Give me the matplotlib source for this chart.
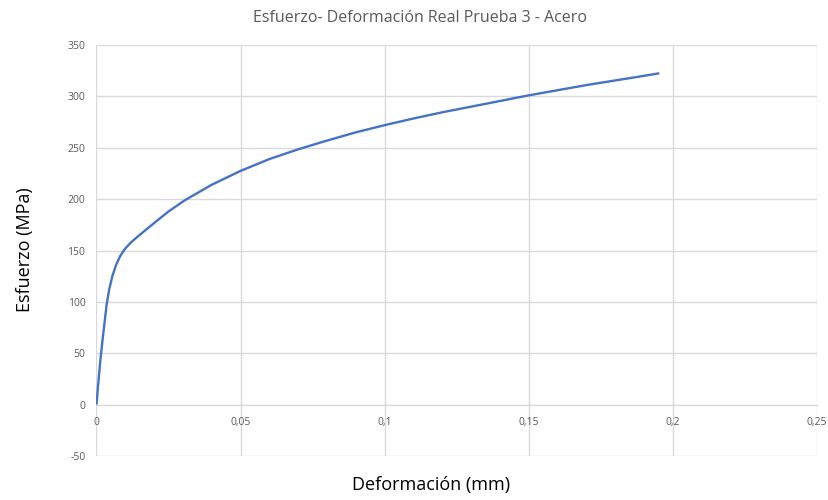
import matplotlib.pyplot as plt
from matplotlib.ticker import FixedLocator, FuncFormatter

# ── Data ──────────────────────────────────────────────────────
deformacion = [0, 0.0006, 0.0013, 0.0021, 0.0028, 0.0035, 0.0044, 0.0055, 0.0068,
               0.0083, 0.01, 0.012, 0.0145, 0.0175, 0.021, 0.025, 0.0307, 0.04,
               0.05, 0.06, 0.07, 0.08, 0.09, 0.1, 0.11, 0.12, 0.13, 0.14, 0.15,
               0.16, 0.17, 0.18, 0.19, 0.1953]
esfuerzo = [0, 20, 42, 63, 80, 97, 112, 125, 136,
            145, 152, 158, 164, 171, 179, 188, 199, 214,
            227.5, 239, 248.5, 257, 265, 272, 278.5, 284.5, 290, 295.5, 301,
            306, 311, 315.5, 320, 322.5]

x_ticks = [0, 0.05, 0.1, 0.15, 0.2, 0.25]
y_ticks = [-50, 0, 50, 100, 150, 200, 250, 300, 350]

plt.rcParams['font.family'] = ['Open Sans', 'DejaVu Sans']

fig = plt.figure(figsize=(8.29, 5.0), dpi=100)
ax = fig.add_axes([0.1164, 0.088, 0.8691, 0.822])

ax.plot(deformacion, esfuerzo, color='#4472C4', linewidth=1.7,
        solid_capstyle='butt', solid_joinstyle='round')

ax.set_xlim(0, 0.25)
ax.set_ylim(-50, 350)
ax.xaxis.set_major_locator(FixedLocator(x_ticks))
ax.yaxis.set_major_locator(FixedLocator(y_ticks))
ax.xaxis.set_major_formatter(FuncFormatter(lambda v, p: f'{v:g}'.replace('.', ',')))
ax.yaxis.set_major_formatter(FuncFormatter(lambda v, p: f'{v:g}'))

ax.grid(True, color='#d9d9d9', linewidth=1)
ax.set_axisbelow(True)
for s in ['top', 'right', 'left']:
    ax.spines[s].set_visible(False)
ax.spines['bottom'].set_position(('data', 0))
ax.spines['bottom'].set_color('#d9d9d9')
ax.tick_params(length=0, labelsize=7.5, colors='#595959', pad=8)
ax.tick_params(axis='x', pad=9)

fig.text(0.507, 0.963, 'Esfuerzo- Deformación Real Prueba 3 - Acero',
         ha='center', va='center', fontsize=11.5, color='#595959')
fig.text(0.03, 0.5, 'Esfuerzo (MPa)', rotation=90, ha='center', va='center',
         fontsize=13, color='black')
fig.text(0.52, 0.03, 'Deformación (mm)', ha='center', va='center',
         fontsize=13, color='black')

fig.savefig('out.png', dpi=100)
